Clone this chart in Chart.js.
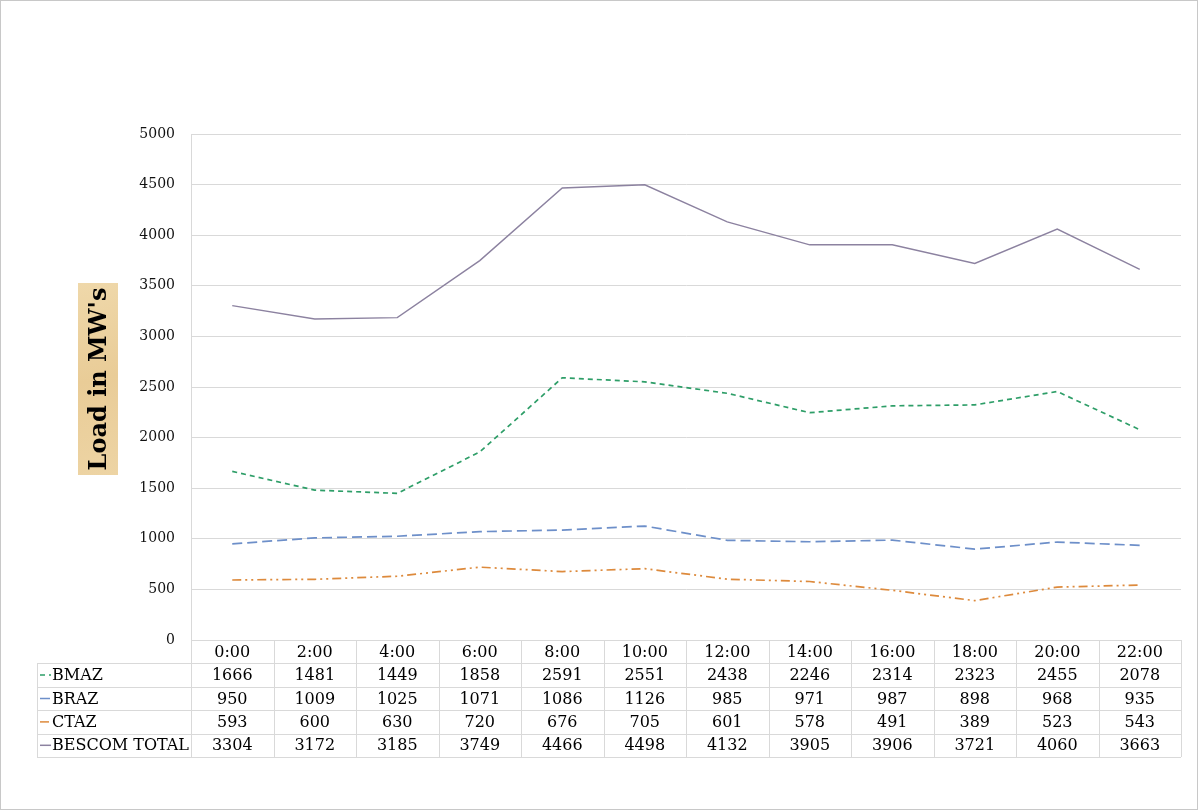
<!DOCTYPE html>
<html>
<head>
<meta charset="utf-8">
<script src="https://cdn.jsdelivr.net/npm/chart.js@4.4.0/dist/chart.umd.min.js"></script>
<style>
  body { margin: 0; background: #fff; }
  canvas { display: block; }
</style>
</head>
<body>
<canvas id="loadChart" width="1200" height="811"></canvas>
<script>
// data
const hours = ["0:00", "2:00", "4:00", "6:00", "8:00", "10:00", "12:00", "14:00", "16:00", "18:00", "20:00", "22:00"];
const bmaz = [1666, 1481, 1449, 1858, 2591, 2551, 2438, 2246, 2314, 2323, 2455, 2078];
const braz = [950, 1009, 1025, 1071, 1086, 1126, 985, 971, 987, 898, 968, 935];
const ctaz = [593, 600, 630, 720, 676, 705, 601, 578, 491, 389, 523, 543];
const bescomTotal = [3304, 3172, 3185, 3749, 4466, 4498, 4132, 3905, 3906, 3721, 4060, 3663];
const seriesNames = ["BMAZ", "BRAZ", "CTAZ", "BESCOM TOTAL"];
const yTicks = [0, 500, 1000, 1500, 2000, 2500, 3000, 3500, 4000, 4500, 5000];

const serif = "'DejaVu Serif', serif";
const gridColor = '#d9d9d9';

// white page + thin grey frame
const framePlugin = {
  id: 'frame',
  beforeDraw(chart) {
    const c = chart.ctx;
    c.save();
    c.fillStyle = '#fff';
    c.fillRect(0, 0, chart.width, chart.height);
    c.strokeStyle = '#c8c8c8';
    c.lineWidth = 1;
    c.strokeRect(0.5, 0.5, 1197, 809);
    c.restore();
  }
};

// excel style data table under the plot + boxed axis title
const tablePlugin = {
  id: 'dataTable',
  afterDraw(chart) {
    const c = chart.ctx;
    const x = chart.scales.x;
    const area = chart.chartArea;
    const rowH = 23.4;
    const top = area.bottom;
    const keyLeft = 37;
    const half = (x.getPixelForValue(1) - x.getPixelForValue(0)) / 2;
    const rows = chart.data.datasets.length;
    const bottom = top + rowH * (rows + 1);

    c.save();
    c.strokeStyle = gridColor;
    c.lineWidth = 1;

    // vertical lines of the table
    for (let i = 0; i <= hours.length; i++) {
      const px = Math.round(x.getPixelForValue(0) - half + i * half * 2) + 0.5;
      c.beginPath();
      c.moveTo(px, top);
      c.lineTo(px, bottom);
      c.stroke();
    }
    // horizontal lines
    for (let r = 1; r <= rows + 1; r++) {
      const py = Math.round(top + r * rowH) + 0.5;
      c.beginPath();
      c.moveTo(keyLeft, py);
      c.lineTo(area.right, py);
      c.stroke();
    }
    c.beginPath();
    c.moveTo(keyLeft + 0.5, top + rowH);
    c.lineTo(keyLeft + 0.5, bottom);
    c.stroke();

    c.fillStyle = '#000';
    c.font = '16px ' + serif;
    c.textBaseline = 'middle';
    c.textAlign = 'center';
    hours.forEach((h, i) => {
      c.fillText(h, x.getPixelForValue(i), top + rowH / 2 + 1);
    });

    chart.data.datasets.forEach((ds, r) => {
      const cy = top + rowH * (r + 1) + rowH / 2 + 1;
      c.textAlign = 'center';
      c.fillStyle = '#000';
      ds.data.forEach((v, i) => c.fillText(String(v), x.getPixelForValue(i), cy));
      // legend key
      c.save();
      c.strokeStyle = ds.borderColor;
      c.lineWidth = 1.5;
      c.setLineDash(ds.borderDash || []);
      c.beginPath();
      c.moveTo(40, cy - 1);
      c.lineTo(51, cy - 1);
      c.stroke();
      c.restore();
      c.textAlign = 'left';
      c.fillText(ds.label, 52, cy);
    });

    // axis title in a tan box
    const bx = 78, by = 283, bw = 40, bh = 192;
    const grad = c.createLinearGradient(bx, by, bx + bw, by + bh);
    grad.addColorStop(0, '#efd8aa');
    grad.addColorStop(0.5, '#e9cc97');
    grad.addColorStop(1, '#edd4a4');
    c.fillStyle = grad;
    c.fillRect(bx, by, bw, bh);
    c.translate(bx + bw / 2 + 1, by + bh / 2);
    c.rotate(-Math.PI / 2);
    c.fillStyle = '#000';
    c.textAlign = 'center';
    c.textBaseline = 'middle';
    c.font = 'bold 24px ' + serif;
    c.fillText("Load in MW's", 0, 1);
    c.restore();
  }
};

const ctx = document.getElementById('loadChart').getContext('2d');
const loadChart = new Chart(ctx, {
  type: 'line',
  data: {
    labels: hours,
    datasets: [
      { label: seriesNames[0], data: bmaz, borderColor: '#2e9e68', borderWidth: 1.7, borderDash: [5, 4] },
      { label: seriesNames[1], data: braz, borderColor: '#6d8fc9', borderWidth: 1.7, borderDash: [10, 5] },
      { label: seriesNames[2], data: ctaz, borderColor: '#dd8a3c', borderWidth: 1.7, borderDash: [9, 4, 2, 4, 2, 4] },
      { label: seriesNames[3], data: bescomTotal, borderColor: '#8c82a0', borderWidth: 1.4 }
    ]
  },
  options: {
    responsive: false,
    animation: false,
    devicePixelRatio: 1,
    layout: { padding: { top: 134, right: 19, left: 0, bottom: 0 } },
    elements: { point: { radius: 0 }, line: { tension: 0, fill: false } },
    plugins: { legend: { display: false }, tooltip: { enabled: false } },
    scales: {
      x: {
        type: 'category',
        offset: true,
        grid: { display: false },
        border: { display: false },
        ticks: { display: false },
        afterFit: (scale) => { scale.height = 171; }
      },
      y: {
        min: 0,
        max: 5000,
        afterBuildTicks: (scale) => { scale.ticks = yTicks.map(v => ({ value: v })); },
        grid: { color: gridColor, lineWidth: 1, drawTicks: false },
        border: { display: true, color: gridColor },
        ticks: {
          padding: 16,
          color: '#111',
          font: { family: serif, size: 14 },
          callback: (v) => String(v)
        },
        afterFit: (scale) => { scale.width = 191; }
      }
    }
  },
  plugins: [framePlugin, tablePlugin]
});
</script>
</body>
</html>
